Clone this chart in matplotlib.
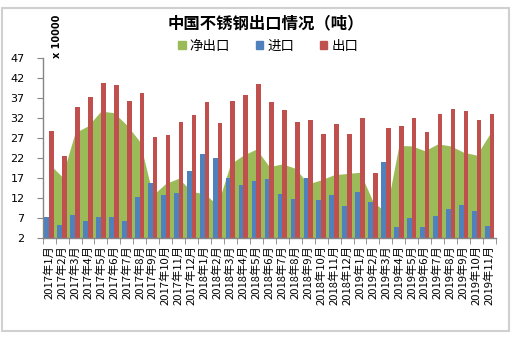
import matplotlib
matplotlib.use("Agg")
import matplotlib.pyplot as plt
import numpy as np
from matplotlib.patches import Patch, Rectangle

plt.rcParams['font.family'] = ['Noto Sans CJK SC', 'DejaVu Sans']

months = [f"2017年{m}月" for m in range(1, 13)] + \
         [f"2018年{m}月" for m in range(1, 13)] + \
         [f"2019年{m}月" for m in range(1, 12)]

imports = [7.2, 5.3, 7.7, 6.4, 7.2, 7.2, 6.4, 12.4, 15.7, 12.9, 13.3, 18.8,
           23.1, 22.1, 17.1, 15.3, 16.3, 16.8, 13.1, 11.8, 17.1, 11.6, 12.8, 10.1,
           13.6, 11.1, 21.1, 4.8, 7.1, 4.8, 7.6, 9.3, 10.3, 8.8, 5.1]
exports = [28.9, 22.6, 34.9, 37.2, 40.9, 40.2, 36.4, 38.2, 27.2, 27.7, 31.1, 32.8,
           36.1, 30.8, 36.3, 37.8, 40.6, 36.1, 34.1, 31.1, 31.6, 28.1, 30.6, 28.1,
           32.1, 18.3, 29.6, 30.1, 32.1, 28.6, 33.1, 34.3, 33.8, 31.6, 33.1]
net = [20.6, 17.4, 28.4, 30.1, 33.8, 33.4, 30.3, 26.2, 12.8, 15.7, 17.0, 13.7,
       13.1, 10.3, 20.6, 22.8, 24.3, 19.9, 20.6, 19.5, 15.6, 16.6, 17.9, 18.2,
       18.5, 11.2, 8.4, 25.2, 25.1, 23.9, 25.6, 25.1, 23.5, 22.8, 28.0]
yticks = [2, 7, 12, 17, 22, 27, 32, 37, 42, 47]

c_green = '#9BBB59'
c_blue = '#4F81BD'
c_red = '#C0504D'
axis_gray = '#868686'

fig = plt.figure(figsize=(5.14, 3.37), dpi=100)
ax = fig.add_axes([0.083, 0.293, 0.882, 0.534])

x = np.arange(len(months))
w = 0.36
ax.fill_between(x, 2, net, color=c_green, linewidth=0, zorder=1)
ax.bar(x - w / 2, np.array(imports) - 2, width=w, bottom=2, color=c_blue, zorder=2)
ax.bar(x + w / 2, np.array(exports) - 2, width=w, bottom=2, color=c_red, zorder=2)

ax.set_xlim(-0.5, len(months) - 0.5)
ax.set_ylim(2, 47)
ax.set_yticks(yticks)
ax.set_yticklabels([str(v) for v in yticks], fontsize=8, family=['DejaVu Sans'])
ax.set_xticks(x)
ax.set_xticklabels(months, rotation=90, fontsize=8.1)
ax.set_xticks(np.arange(-0.5, len(months), 1), minor=True)
ax.tick_params(axis='x', which='major', length=0, pad=5)
ax.tick_params(axis='x', which='minor', length=4, color=axis_gray, direction='out')
ax.tick_params(axis='y', length=4, color=axis_gray, direction='out', pad=9)

for s in ['top', 'right']:
    ax.spines[s].set_visible(False)
for s in ['left', 'bottom']:
    ax.spines[s].set_color(axis_gray)
    ax.spines[s].set_linewidth(1.0)

fig.text(0.517, 0.932, "中国不锈钢出口情况（吨）", ha='center', va='center',
         fontsize=11.8, fontweight='bold')
fig.text(0.111, 0.893, "x 10000", rotation=90, ha='center', va='center',
         fontsize=7, fontweight='bold', family=['DejaVu Sans'])

handles = [Patch(color=c_green, label='净出口'),
           Patch(color=c_blue, label='进口'),
           Patch(color=c_red, label='出口')]
fig.legend(handles=handles, loc='center', bbox_to_anchor=(0.522, 0.863), ncol=3,
           frameon=False, fontsize=9.7, handlelength=0.55, handleheight=0.55,
           handletextpad=0.3, columnspacing=1.9)

fig.patches.append(Rectangle((2 / 514, 6 / 337), 507 / 514, 323 / 337,
                             transform=fig.transFigure, fill=False,
                             edgecolor='#D0D0D0', linewidth=1.5))

fig.savefig("out.png", dpi=100)
